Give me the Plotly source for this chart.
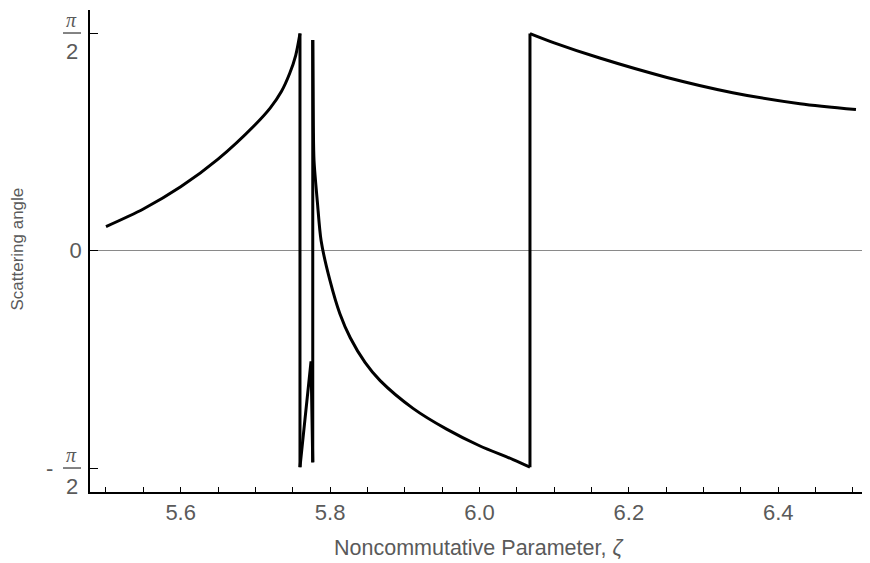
import math
import plotly.graph_objects as go

# ---- data ----
seg1_x = [5.5, 5.55, 5.6, 5.65, 5.7, 5.72, 5.735, 5.746, 5.754, 5.7597]
seg1_y = [0.173, 0.30, 0.46, 0.66, 0.91, 1.03, 1.15, 1.28, 1.41, 1.567]

seg2_x = [5.7597, 5.7745, 5.7768]
seg2_y = [-1.565, -0.80, -1.53]

seg3_x = [5.7768, 5.7772, 5.7776, 5.7785, 5.783, 5.788, 5.800, 5.813, 5.827,
          5.847, 5.867, 5.911, 5.956, 6.0, 6.045, 6.0676]
seg3_y = [1.52, 1.2, 0.9, 0.65, 0.35, 0.07, -0.22, -0.455, -0.63,
          -0.81, -0.94, -1.14, -1.29, -1.41, -1.51, -1.565]

seg4_x = [6.0676, 6.10, 6.161, 6.251, 6.339, 6.429, 6.504]
seg4_y = [1.567, 1.50, 1.39, 1.25, 1.14, 1.06, 1.018]

x_major_ticks = [5.6, 5.8, 6.0, 6.2, 6.4]
x_tick_labels = ["5.6", "5.8", "6.0", "6.2", "6.4"]
y_tick_vals = [-math.pi / 2, 0, math.pi / 2]
y_tick_labels = ["", "0", ""]

segments = [(seg1_x, seg1_y), (seg2_x, seg2_y), (seg3_x, seg3_y), (seg4_x, seg4_y)]

FONT = "Liberation Sans, Arial, sans-serif"
GRAY = "#5a5a5a"
LINE = dict(color="black", width=3)

fig = go.Figure()
# smooth branches
for sx, sy in segments:
    shape = "spline" if len(sx) > 3 else "linear"
    fig.add_trace(go.Scatter(x=sx, y=sy, mode="lines",
                             line=dict(**LINE, shape=shape, smoothing=0.8),
                             hoverinfo="skip", showlegend=False))
# vertical jumps joining consecutive branches
for (ax, ay), (bx, by) in zip(segments[:-1], segments[1:]):
    fig.add_trace(go.Scatter(x=[ax[-1], bx[0]], y=[ay[-1], by[0]], mode="lines",
                             line=LINE, hoverinfo="skip", showlegend=False))

# the page body has an 8 px default margin, so margins compensate for it
fig.update_layout(
    width=870, height=563,
    margin=dict(l=82, r=8, t=2, b=79, autoexpand=False),
    paper_bgcolor="white", plot_bgcolor="white",
    font=dict(family=FONT, color=GRAY),
    xaxis=dict(
        range=[5.4786, 6.5228], automargin=False,
        tickvals=x_major_ticks, ticktext=x_tick_labels,
        ticks="inside", ticklen=5, tickcolor="black", tickwidth=1,
        tickfont=dict(size=22, color=GRAY, family=FONT),
        ticklabelstandoff=0,
        minor=dict(dtick=0.05, tick0=5.5, ticks="inside", ticklen=5,
                   tickcolor="black", tickwidth=1, showgrid=False),
        showline=True, linecolor="black", linewidth=1.5,
        showgrid=False, zeroline=False,
    ),
    yaxis=dict(
        range=[-1.744, 1.737], automargin=False,
        tickvals=y_tick_vals, ticktext=y_tick_labels,
        ticks="inside", ticklen=8, tickcolor="black", tickwidth=1,
        tickfont=dict(size=22, color=GRAY, family=FONT),
        ticklabelstandoff=2,
        showline=True, linecolor="black", linewidth=1.5,
        showgrid=False,
        zeroline=True, zerolinecolor="#8a8a8a", zerolinewidth=1,
    ),
)

# axis titles
fig.add_annotation(xref="paper", yref="paper", x=0.4975, y=-0.116,
                   text="Noncommutative Parameter, <i>ζ</i>", showarrow=False,
                   xanchor="center", yanchor="middle",
                   font=dict(size=21.5, color=GRAY, family=FONT))
fig.add_annotation(xref="paper", yref="paper", x=-0.0923, y=0.503,
                   text="Scattering angle", showarrow=False, textangle=-90,
                   xanchor="center", yanchor="middle",
                   font=dict(size=17, color=GRAY, family=FONT))

# fraction tick labels for ±π/2
for val, sign in [(math.pi / 2, ""), (-math.pi / 2, "-")]:
    fig.add_annotation(xref="paper", yref="y", x=-0.0231, y=val, text="<i>π</i>",
                       showarrow=False, xanchor="center", yanchor="middle",
                       yshift=13, borderpad=0,
                       font=dict(size=20, color=GRAY, family="Liberation Serif"))
    fig.add_annotation(xref="paper", yref="y", x=-0.0231, y=val, text="2",
                       showarrow=False, xanchor="center", yanchor="middle",
                       yshift=-18,
                       font=dict(size=22, color=GRAY, family=FONT))
    fig.add_shape(type="line", xref="paper", yref="y",
                  x0=-0.0346, x1=-0.0115, y0=val, y1=val,
                  line=dict(color=GRAY, width=1.5))
    if sign:
        fig.add_annotation(xref="paper", yref="y", x=-0.0513, y=val, text="-",
                           showarrow=False, xanchor="center", yanchor="middle",
                           font=dict(size=22, color=GRAY, family=FONT))

fig.write_html("out.html")
